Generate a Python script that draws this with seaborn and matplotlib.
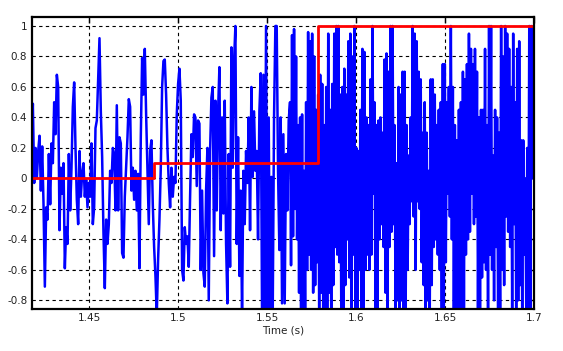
import numpy as np
import seaborn as sns
import matplotlib.pyplot as plt

# blue signal, read left to right off the reference (1.417 s .. 1.563 s)
sig_a = [0.23, 0.49, -0.03, 0.2, 0.0, 0.18, 0.28, -0.08, 0.21, -0.17, -0.71, -0.19, -0.27, 0.16, -0.17,
         0.23, 0.1, 0.5, 0.29, 0.68, 0.6, -0.34, 0.07, -0.1, 0.1, -0.59, -0.32, -0.43, 0.16, -0.21, 0.07,
         0.47, 0.63, 0.2, -0.14, -0.3, 0.18, -0.12, 0.03, 0.1, -0.12, -0.01, -0.19, -0.03, -0.12, 0.23,
         -0.3, -0.19, 0.33, 0.38, 0.66, 0.92, 0.44, 0.14, -0.36, -0.72, -0.27, -0.43, -0.3, 0.05, -0.03,
         0.2, 0.16, -0.21]
sig_b = [0.48, -0.21, 0.27, 0.23, -0.49, -0.52, -0.12, 0.07, 0.27, 0.52, 0.47, -0.08, 0.07, -0.14, 0.05,
         -0.21, 0.03, -0.59, 0.27, 0.79, 0.55, 0.85, 0.42, 0.07, -0.3, 0.18, 0.25, -0.17, -0.45, -0.64,
         -0.9, -0.53, -0.27, 0.07, 0.6, 0.77, 0.78, 0.55, 0.2, -0.03, -0.19, 0.07, -0.12, 0.01, -0.03,
         0.42, 0.62, 0.72, 0.51, -0.6, -0.67, -0.32, -0.43, -0.38, -0.58, -0.12, 0.29, 0.14, 0.42, 0.4,
         -0.05, 0.38, 0.36, -0.6, -0.08]
sig_c = [-0.62, -0.71, -0.08, 0.2, -0.8, 0.18, 0.53, 0.6, -0.51, 0.51, -0.21, 0.44, 0.73, -0.34, 0.4,
         -0.23, 0.51, -0.43, -0.82, 0.16, -0.58, 0.86, 0.07, 0.77, 1.0, -0.43, 0.27, -0.64, -0.08, -0.9,
         0.05, -0.3, 0.18, -0.03, 0.4, -0.34, 0.6, 0.01, 0.44, 0.05, 0.18, -0.4, 0.44, 0.69, -0.9, 0.68,
         -0.9, 1.0, -0.9, 0.4, -0.9, 0.01, -0.9, 0.4, 1.0, 1.0, 0.05, -0.47, 0.4, -0.82, 0.29, -0.82,
         0.16, -0.21, 0.38]

# dense part (1.563 s .. 1.7 s): swing peaks and troughs read column by column
peaks = [0.5, 0.94, 0.98, 0.8, 0.35, 0.4, 0.42, 0.05, 0.5, 0.96, 0.9, 0.95, 0.8, 0.45, 0.55, 0.68,
         0.62, 0.35, 0.6, 0.95, 0.45, 0.62, 0.95, 1.0, 1.0, 0.55, 0.6, 0.72, 0.55, 0.9, 0.95,
         0.8, 1.0, 0.2, 0.18, 0.45, 0.85, 0.83, 0.4, 0.35, 0.65, 1.0, 0.5, 0.35, 0.38, 0.4, 0.3,
         0.78, 0.82, 0.7, 1.0, 1.0, 0.35, 0.1, 0.6, 0.55, 0.7, 0.7, 0.35, 0.15, 0.4, 1.0,
         0.95, 0.9, 0.7, 0.65, 0.3, 0.5, 0.3, 0.05, 0.65, 0.65, 0.55, 0.35, 0.45, 0.5, 0.75, 0.75,
         0.5, 0.6, 1.0, 0.6, 0.35, 0.25, 0.45, 0.5, 0.7, 0.65, 0.75, 0.95, 0.85, 0.75, 0.85,
         0.7, 0.4, 0.45, 0.45, 0.85, 0.35, 1.0, 1.0, 0.15, 0.45, 0.4, 0.3, 1.0, 0.8, 1.0, 0.95,
         0.85, 0.6, 0.95, 0.5, 0.85, 0.9, 0.25, 0.25, 0.0, 0.2, 1.0, 1.0, 0.95]
troughs = [-0.57, -0.38, -0.2, -0.4, -0.75, -0.85, -0.85, -0.88, -0.6, -0.5, -0.6, -0.75, -0.7, -0.55,
           -0.9, -0.75, -0.85, -0.9, -0.9, -0.75, -0.88, -0.7, -0.45, -0.5, -0.55, -0.9, -0.85, -0.7,
           -0.4, -0.65, -0.9,
           -0.5, -0.9, -0.85, -0.6, -0.9, -0.85, -0.6, -0.5, -0.6, -0.5, -0.1, -0.9, -0.85, -0.4, -0.3,
           -0.45, -0.75, -0.9, -0.45, -0.35, -0.3, -0.9, -0.8, -0.9, -0.8, -0.9, -0.9, -0.6, -0.3,
           -0.15, -0.25,
           -0.6, -0.15, -0.2, -0.55, -0.7, -0.9, -0.8, -0.9, -0.7, -0.45, -0.4, -0.5, -0.6, -0.85,
           -0.9, -0.55, -0.1, -0.25, -0.4, -0.9, -0.9, -0.9, -0.9, -0.9, -0.85, -0.5, -0.4, -0.35,
           -0.1, -0.3, -0.25,
           -0.85, -0.9, -0.65, -0.55, -0.6, -0.9, -0.5, -0.6, -0.8, -0.45, -0.9, -0.85, -0.6, -0.7,
           -0.25, -0.35, -0.45, -0.85, -0.3, -0.9, -0.8, -0.7, -0.9, -0.5, -0.85, -0.9, -0.85, 0.0, 0.2]

t_start, t_split, t_end = 1.4176, 1.5628, 1.7

sig_early = np.array(sig_a + sig_b + sig_c)
sig_late = np.column_stack([peaks, troughs]).ravel()
time = np.concatenate([np.linspace(t_start, t_split, len(sig_early), endpoint=False),
                       np.linspace(t_split, t_end, len(sig_late))])
signal = np.concatenate([sig_early, sig_late])

# red step
step_t = [t_start, 1.4863, 1.5783, t_end]
step_v = [0.0, 0.103, 1.0, 1.0]

yticks = [-0.8, -0.6, -0.4, -0.2, 0, 0.2, 0.4, 0.6, 0.8, 1]
ytick_labels = ["-0.8", "-0.6", "-0.4", "-0.2", "0", "0.2", "0.4", "0.6", "0.8", "1"]
xticks = [1.45, 1.5, 1.55, 1.6, 1.65, 1.7]
xtick_labels = ["1.45", "1.5", "1.55", "1.6", "1.65", "1.7"]

sns.set_style("white")
plt.rcParams['font.family'] = ['DejaVu Sans']

fig = plt.figure(figsize=(5.63, 3.51), dpi=100)
ax = fig.add_axes([0.056, 0.12, 0.893, 0.832])

sns.lineplot(x=time, y=signal, ax=ax, color='#0000ff', linewidth=1.8, sort=False)
sns.lineplot(x=step_t, y=step_v, ax=ax, color='#ff0000', linewidth=2, drawstyle='steps-post', sort=False)

ax.set_xlim(t_start, t_end)
ax.set_ylim(-0.856, 1.06)
ax.set_xticks(xticks)
ax.set_xticklabels(xtick_labels)
ax.set_yticks(yticks)
ax.set_yticklabels(ytick_labels)
ax.grid(True, color='black', linestyle=(0, (3, 3)), linewidth=0.8)
ax.tick_params(direction='in', length=4, width=1, labelsize=7.5, top=True, right=True,
               colors='black', labelcolor='#222222', pad=3)
for s in ax.spines.values():
    s.set_visible(True)
    s.set_color('black')
    s.set_linewidth(1.6)
ax.set_xlabel("Time (s)", fontsize=7.5, color='#222222', labelpad=2)
ax.set_ylabel("")

fig.savefig("out.png", dpi=100)
